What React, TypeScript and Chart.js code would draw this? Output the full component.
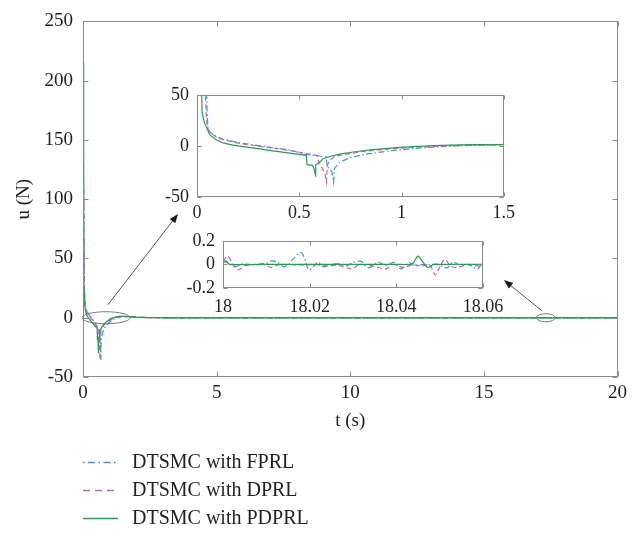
import React, { useEffect, useRef } from "react";
import { Chart, registerables } from "chart.js";
Chart.register(...registerables);

// ---------- data ----------
const SERIES_NAMES = ["DTSMC with FPRL", "DTSMC with DPRL", "DTSMC with PDPRL"];

// FPRL (blue dash-dot)
const fprlT = [0, 0.002, 0.02, 0.046, 0.05, 0.054, 0.062, 0.095, 0.127, 0.209, 0.29, 0.372, 0.453, 0.535, 0.633, 0.636, 0.65, 0.66, 0.668, 0.672, 0.698, 0.747, 0.81, 0.942, 1.1, 1.27, 1.5, 2, 2.5, 3, 20];
const fprlU = [30, 212, 120, 60, 31, 16, 13.5, 9, 6.7, 3, 0.6, -1.8, -4, -8.5, -10.8, -20.8, -22, -26, -35.5, -22, -16, -11.6, -8.6, -4.9, -1.8, 0, 1.2, 0.4, 0.1, 0, 0];

// DPRL (magenta dashed)
const dprlT = [0, 0.002, 0.02, 0.037, 0.045, 0.05, 0.062, 0.095, 0.127, 0.209, 0.29, 0.372, 0.453, 0.535, 0.59, 0.597, 0.61, 0.625, 0.633, 0.637, 0.65, 0.675, 0.747, 0.81, 0.942, 1.1, 1.27, 1.5, 2, 2.5, 3, 20];
const dprlU = [35, 210, 120, 62, 32, 18, 14, 8.5, 6, 2.5, 0, -2.2, -4.5, -7.5, -9.5, -18, -21, -27, -35.5, -19, -14, -10, -7.5, -5.5, -3, -1, 0.6, 1.2, 0.4, 0.1, 0, 0];

// PDPRL (green solid)
const pdprlT = [0, 0.022, 0.025, 0.0375, 0.062, 0.095, 0.127, 0.17, 0.209, 0.29, 0.372, 0.453, 0.535, 0.538, 0.564, 0.572, 0.578, 0.58, 0.581, 0.6, 0.616, 0.649, 0.698, 0.78, 0.86, 1.008, 1.19, 1.35, 1.5, 2, 2.5, 3, 20];
const pdprlU = [215, 60, 32, 22, 11, 5.8, 3, 1, -0.3, -2.4, -4.9, -7, -9.2, -18.3, -19, -22, -27, -30, -18.5, -16, -12.5, -10.4, -8, -5.5, -3.7, -1.2, 0.6, 1.2, 1.2, 0.4, 0.1, 0, 0];

// zoom window 18 s - 18.06 s
const fprl2T = [18.0, 18.0007, 18.0016, 18.003, 18.0042, 18.0064, 18.0099, 18.0112, 18.0126, 18.0139, 18.0152, 18.016, 18.018, 18.0187, 18.0198, 18.021, 18.022, 18.0231, 18.0249, 18.0266, 18.0284, 18.0301, 18.0319, 18.0336, 18.0358, 18.0376, 18.0393, 18.0411, 18.0429, 18.0442, 18.046, 18.0477, 18.0495, 18.0517, 18.053, 18.0547, 18.0565, 18.0587, 18.06];
const fprl2U = [0.026, 0.03, 0, -0.018, 0.004, 0, 0.008, 0.03, 0.018, -0.018, 0, 0.04, 0.1, 0.065, -0.046, -0.012, 0.018, -0.02, 0, 0.005, -0.012, 0.018, 0.026, -0.03, 0.018, -0.012, 0.018, -0.038, 0.018, -0.012, -0.002, -0.004, 0, -0.03, 0.02, -0.004, 0, -0.038, 0.018];

const dprl2T = [18.0, 18.0011, 18.0025, 18.0036, 18.005, 18.0073, 18.0099, 18.011, 18.0132, 18.0167, 18.0192, 18.021, 18.024, 18.0266, 18.0297, 18.0315, 18.0345, 18.0376, 18.0393, 18.0416, 18.0438, 18.046, 18.0477, 18.049, 18.0503, 18.0512, 18.0525, 18.0538, 18.0565, 18.0591, 18.06];
const dprl2U = [0.026, 0.07, -0.013, -0.046, -0.013, 0, -0.003, -0.026, 0, -0.005, -0.003, 0, -0.013, -0.008, -0.038, -0.003, -0.013, -0.038, 0, -0.026, -0.003, -0.013, -0.003, -0.09, 0, 0.044, -0.013, -0.026, -0.003, -0.013, 0];

const pdprl2T = [18.0, 18.0007, 18.0016, 18.01, 18.02, 18.03, 18.04, 18.0429, 18.0438, 18.045, 18.046, 18.0473, 18.0486, 18.05, 18.06];
const pdprl2U = [0.018, 0.02, 0, 0, 0, 0, 0, 0, 0.008, 0.07, 0.026, -0.026, 0, 0, 0];

// ticks
const mainXTicks = [0, 5, 10, 15, 20];
const mainYTicks = [-50, 0, 50, 100, 150, 200, 250];
const inset1XTicks = [0, 0.5, 1, 1.5];
const inset1YTicks = [-50, 0, 50];
const inset2XTicks = [18, 18.02, 18.04, 18.06];
const inset2YTicks = [-0.2, 0, 0.2];

// ---------- styles ----------
const COLORS = ["#3b98d6", "#c264b2", "#2f9b4e"];
const DASHES: number[][] = [[6, 2.5, 1.5, 2.5], [5, 3], []];
const LEGEND_DASHES: number[][] = [[1.5, 3.5, 7, 3.5], [7, 5], []];
const TEXT = "#231f20";
const BOX = "#8c8c8c";
const FONT = '"Liberation Serif", "Times New Roman", serif';

const W = 632;
const H = 533;

const xy = (t: number[], u: number[]) => t.map((x, i) => ({ x, y: u[i] }));

function datasets(sets: { x: number; y: number }[][], width: number, tension: number) {
  // draw order: index 0 on top -> green first
  const idx = [2, 1, 0];
  return idx.map((k) => ({
    label: SERIES_NAMES[k],
    data: sets[k],
    borderColor: COLORS[k],
    borderWidth: width,
    borderDash: DASHES[k],
    pointRadius: 0,
    fill: false,
    tension,
  }));
}

function axis(
  dir: "x" | "y",
  min: number,
  max: number,
  ticks: number[],
  size: number,
  pad: number,
  fixed: number,
  title?: { text: string; padTop: number; padBottom: number }
) {
  return {
    type: "linear" as const,
    min,
    max,
    afterBuildTicks: (s: any) => {
      s.ticks = ticks.map((v) => ({ value: v }));
    },
    afterFit: (s: any) => {
      if (dir === "x") s.height = fixed;
      else s.width = fixed;
    },
    grid: { display: false, drawTicks: false },
    border: { display: false },
    ticks: {
      padding: pad,
      color: TEXT,
      autoSkip: false,
      maxRotation: 0,
      font: { family: FONT, size },
      callback: (v: any) => String(v),
    },
    title: title
      ? {
          display: true,
          text: title.text,
          color: TEXT,
          font: { family: FONT, size: 19 },
          padding: { top: title.padTop, bottom: title.padBottom },
        }
      : { display: false },
  };
}

function boxPlugin(xTicks: number[], yTicks: number[], len: number) {
  return {
    id: "boxTicks",
    afterDatasetsDraw(chart: any) {
      const { ctx, chartArea: a, scales } = chart;
      const L = Math.round(a.left) + 0.5;
      const R = Math.round(a.right) - 0.5;
      const T = Math.round(a.top) + 0.5;
      const B = Math.round(a.bottom) - 0.5;
      ctx.save();
      ctx.strokeStyle = BOX;
      ctx.lineWidth = 1;
      ctx.setLineDash([]);
      ctx.strokeRect(L, T, R - L, B - T);
      ctx.beginPath();
      xTicks.forEach((v) => {
        const p = Math.round(scales.x.getPixelForValue(v)) + 0.5;
        ctx.moveTo(p, B);
        ctx.lineTo(p, B - len);
        ctx.moveTo(p, T);
        ctx.lineTo(p, T + len);
      });
      yTicks.forEach((v) => {
        const p = Math.round(scales.y.getPixelForValue(v)) + 0.5;
        ctx.moveTo(L, p);
        ctx.lineTo(L + len, p);
        ctx.moveTo(R, p);
        ctx.lineTo(R - len, p);
      });
      ctx.stroke();
      ctx.restore();
    },
  };
}

// layout of the insets (page pixels)
const INSET1 = { left: 140, top: 76, width: 380, height: 160, plotLeft: 197, plotTop: 88, plotRight: 504, plotBottom: 197 };
const INSET2 = { left: 170, top: 222, width: 345, height: 100, plotLeft: 223, plotTop: 236, plotRight: 483, plotBottom: 288 };

function arrow(ctx: CanvasRenderingContext2D, x1: number, y1: number, x2: number, y2: number) {
  const ang = Math.atan2(y2 - y1, x2 - x1);
  const hl = 9;
  const hw = 3.5;
  const bx = x2 - hl * Math.cos(ang);
  const by = y2 - hl * Math.sin(ang);
  ctx.strokeStyle = "#555";
  ctx.lineWidth = 1;
  ctx.beginPath();
  ctx.moveTo(x1, y1);
  ctx.lineTo(bx, by);
  ctx.stroke();
  ctx.fillStyle = "#1a1a1a";
  ctx.beginPath();
  ctx.moveTo(x2, y2);
  ctx.lineTo(bx + hw * Math.sin(ang), by - hw * Math.cos(ang));
  ctx.lineTo(bx - hw * Math.sin(ang), by + hw * Math.cos(ang));
  ctx.closePath();
  ctx.fill();
}

const annotationPlugin = {
  id: "annot",
  afterDraw(chart: any) {
    const { ctx, scales } = chart;
    ctx.save();
    ctx.setLineDash([]);
    // ellipses marking the zoomed regions
    const e1x = scales.x.getPixelForValue(0.86);
    const e1y = scales.y.getPixelForValue(0);
    const e2x = scales.x.getPixelForValue(17.32);
    const e2y = scales.y.getPixelForValue(0);
    ctx.strokeStyle = "#7a7a7a";
    ctx.lineWidth = 1;
    ctx.beginPath();
    ctx.ellipse(e1x, e1y, 24, 6, 0, 0, Math.PI * 2);
    ctx.stroke();
    ctx.beginPath();
    ctx.ellipse(e2x, e2y, 9.5, 4, 0, 0, Math.PI * 2);
    ctx.stroke();
    // arrows to the insets
    arrow(ctx, e1x + 2, e1y - 13, INSET1.plotLeft - 19, INSET1.plotBottom + 17);
    arrow(ctx, e2x - 4, e2y - 7, INSET2.plotRight + 21, INSET2.plotBottom - 8);

    // legend
    const rows = [462, 490, 518];
    rows.forEach((y, k) => {
      ctx.strokeStyle = COLORS[k];
      ctx.lineWidth = 1.4;
      ctx.setLineDash(LEGEND_DASHES[k]);
      ctx.beginPath();
      ctx.moveTo(83, y + 0.5);
      ctx.lineTo(118, y + 0.5);
      ctx.stroke();
      ctx.setLineDash([]);
      ctx.fillStyle = TEXT;
      ctx.font = `20px ${FONT}`;
      ctx.textAlign = "left";
      ctx.textBaseline = "middle";
      ctx.fillText(SERIES_NAMES[k], 132, y + 1);
    });
    ctx.restore();
  },
};

export default function App() {
  const mainRef = useRef<HTMLCanvasElement>(null);
  const in1Ref = useRef<HTMLCanvasElement>(null);
  const in2Ref = useRef<HTMLCanvasElement>(null);

  useEffect(() => {
    const full = [xy(fprlT, fprlU), xy(dprlT, dprlU), xy(pdprlT, pdprlU)];
    const zoom = [xy(fprl2T, fprl2U), xy(dprl2T, dprl2U), xy(pdprl2T, pdprl2U)];

    const common = {
      responsive: false,
      animation: false as const,
      devicePixelRatio: 1,
      events: [] as any[],
      plugins: { legend: { display: false }, tooltip: { enabled: false } },
    };

    const main = new Chart(mainRef.current!, {
      type: "line",
      data: { datasets: datasets(full, 1.3, 0) as any },
      options: {
        ...common,
        layout: { padding: { left: 0, top: 16, right: W - 621, bottom: H - 432 } },
        scales: {
          x: axis("x", 0, 20, mainXTicks, 19, 5, 55, { text: "t (s)", padTop: 0, padBottom: 0 }),
          y: axis("y", -50, 250, mainYTicks, 19, 10, 83, { text: "u (N)", padTop: 13, padBottom: 0 }),
        },
      } as any,
      plugins: [boxPlugin(mainXTicks, mainYTicks, 5), annotationPlugin],
    });

    const i1 = INSET1;
    const inset1 = new Chart(in1Ref.current!, {
      type: "line",
      data: { datasets: datasets(full, 1.2, 0) as any },
      options: {
        ...common,
        layout: {
          padding: {
            left: 0,
            top: i1.plotTop - i1.top,
            right: i1.width - (i1.plotRight - i1.left),
            bottom: 0,
          },
        },
        scales: {
          x: axis("x", 0, 1.5, inset1XTicks, 18, 5, i1.height - (i1.plotBottom - i1.top), undefined),
          y: axis("y", -50, 50, inset1YTicks, 18, 8, i1.plotLeft - i1.left, undefined),
        },
      } as any,
      plugins: [boxPlugin(inset1XTicks, inset1YTicks, 4)],
    });

    const i2 = INSET2;
    const inset2 = new Chart(in2Ref.current!, {
      type: "line",
      data: { datasets: datasets(zoom, 1.2, 0.3) as any },
      options: {
        ...common,
        layout: {
          padding: {
            left: 0,
            top: i2.plotTop - i2.top,
            right: i2.width - (i2.plotRight - i2.left),
            bottom: 0,
          },
        },
        scales: {
          x: axis("x", 18, 18.06, inset2XTicks, 18, 8, i2.height - (i2.plotBottom - i2.top), undefined),
          y: axis("y", -0.2, 0.2, inset2YTicks, 18, 8, i2.plotLeft - i2.left, undefined),
        },
      } as any,
      plugins: [boxPlugin(inset2XTicks, inset2YTicks, 4)],
    });

    return () => {
      main.destroy();
      inset1.destroy();
      inset2.destroy();
    };
  }, []);

  const abs = (l: number, t: number, w: number, h: number): React.CSSProperties => ({
    position: "absolute",
    left: l,
    top: t,
    width: w,
    height: h,
  });

  return (
    <div style={{ position: "absolute", left: 0, top: 0, width: W, height: H, background: "#fff" }}>
      <canvas ref={mainRef} width={W} height={H} style={abs(0, 0, W, H)} />
      <canvas ref={in1Ref} width={INSET1.width} height={INSET1.height} style={abs(INSET1.left, INSET1.top, INSET1.width, INSET1.height)} />
      <canvas ref={in2Ref} width={INSET2.width} height={INSET2.height} style={abs(INSET2.left, INSET2.top, INSET2.width, INSET2.height)} />
    </div>
  );
}
